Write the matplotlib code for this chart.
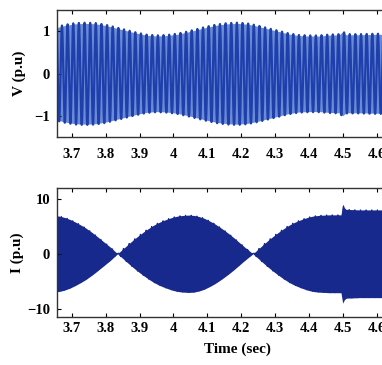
import numpy as np
import matplotlib
matplotlib.use("Agg")
import matplotlib.pyplot as plt

# ---- data ----
# Voltage envelope (p.u.) versus time (s)
v_env_t = [3.65, 3.68, 3.71, 3.74, 3.77, 3.80, 3.83, 3.86, 3.89, 3.92, 3.95, 3.98,
           4.01, 4.04, 4.07, 4.10, 4.13, 4.16, 4.19, 4.22, 4.25, 4.28, 4.31, 4.34,
           4.37, 4.40, 4.43, 4.46, 4.49, 4.50, 4.51, 4.55, 4.60, 4.65, 4.72]
v_env = [1.09, 1.15, 1.19, 1.20, 1.19, 1.15, 1.09, 1.03, 0.97, 0.92, 0.90, 0.91,
         0.94, 0.99, 1.05, 1.11, 1.16, 1.19, 1.20, 1.18, 1.13, 1.07, 1.01, 0.95,
         0.91, 0.90, 0.90, 0.92, 0.93, 1.00, 0.93, 0.93, 0.94, 0.94, 0.95]

# Current envelope (p.u.) versus time (s)
i_env_t = [3.65, 3.665, 3.68, 3.695, 3.71, 3.725, 3.74, 3.755, 3.77, 3.785, 3.80,
           3.815, 3.835, 3.85, 3.865, 3.88, 3.895, 3.91, 3.925, 3.94, 3.955, 3.97,
           3.985, 4.00, 4.015, 4.03, 4.045, 4.06, 4.075, 4.09, 4.105, 4.12, 4.135,
           4.15, 4.165, 4.18, 4.195, 4.21, 4.235, 4.25, 4.265, 4.28, 4.295, 4.31,
           4.325, 4.34, 4.355, 4.37, 4.385, 4.40, 4.415, 4.43, 4.445, 4.46, 4.475,
           4.495, 4.50, 4.505, 4.51, 4.55, 4.60, 4.65, 4.72]
i_env = [6.95, 6.85, 6.6, 6.25, 5.8, 5.3, 4.75, 4.1, 3.4, 2.65, 1.9,
         1.15, 0.0, 0.82, 1.65, 2.45, 3.2, 3.9, 4.55, 5.15, 5.65, 6.05,
         6.4, 6.7, 6.9, 7.0, 7.05, 7.0, 6.8, 6.5, 6.05, 5.55, 4.95,
         4.3, 3.6, 2.85, 2.05, 1.25, 0.0, 0.82, 1.65, 2.45, 3.2, 3.9,
         4.55, 5.15, 5.65, 6.05, 6.4, 6.7, 6.9, 7.0, 7.05, 7.1, 7.1,
         7.1, 9.0, 8.4, 8.1, 8.0, 8.0, 8.0, 8.0]

f_grid = 60.0  # Hz, carrier frequency

xticks = [3.7, 3.8, 3.9, 4.0, 4.1, 4.2, 4.3, 4.4, 4.5, 4.6]
xticklabels = ["3.7", "3.8", "3.9", "4", "4.1", "4.2", "4.3", "4.4", "4.5", "4.6"]
v_yticks = [-1, 0, 1]
i_yticks = [-10, 0, 10]

# ---- waveforms ----
t = np.linspace(3.65, 4.72, 60000)
v_amp = np.interp(t, v_env_t, v_env)
v = v_amp * np.sin(2 * np.pi * f_grid * t)
i_amp = np.interp(t, i_env_t, i_env)
i = i_amp * np.sin(2 * np.pi * f_grid * t + 0.6)

plt.rcParams["font.family"] = ["Liberation Serif", "DejaVu Serif"]
plt.rcParams["font.weight"] = "bold"

fig = plt.figure(figsize=(3.82, 3.65), dpi=100)
W = 1.092 - 0.149
ax1 = fig.add_axes([0.149, 0.625, W, 0.348])
ax2 = fig.add_axes([0.149, 0.132, W, 0.353])

ax1.fill_between(t, -v_amp * 0.985, v_amp * 0.985, color="#6a8bd6", lw=0)
ax1.plot(t, v, color="#1f40ab", lw=1.6)
i_col = "#17298c"
ax2.fill_between(t, -i_amp, i_amp, color=i_col, lw=0)
ax2.plot(t, i, color=i_col, lw=0.8)

for ax, pad in ((ax1, 8), (ax2, 4)):
    ax.set_xlim(3.656, 4.72)
    ax.set_xticks(xticks)
    ax.set_xticklabels(xticklabels)
    ax.tick_params(direction="in", top=True, right=True, length=3, width=0.8,
                   labelsize=10.5)
    ax.tick_params(axis="x", pad=pad)
    ax.tick_params(axis="y", pad=5)
    for s in ax.spines.values():
        s.set_linewidth(1.0)
        s.set_color("#333333")
    for lab in ax.get_xticklabels() + ax.get_yticklabels():
        lab.set_fontweight("bold")

ax1.set_ylim(-1.48, 1.5)
ax1.set_yticks(v_yticks)
ax2.set_ylim(-11.5, 12)
ax2.set_yticks(i_yticks)

ax1.set_ylabel("V (p.u)", fontsize=11, fontweight="bold", labelpad=6)
ax2.set_ylabel("I (p.u)", fontsize=11, fontweight="bold", labelpad=2)
ax2.set_xlabel("Time (sec)", fontsize=11, fontweight="bold", labelpad=5)

fig.savefig("out.png", dpi=100)
